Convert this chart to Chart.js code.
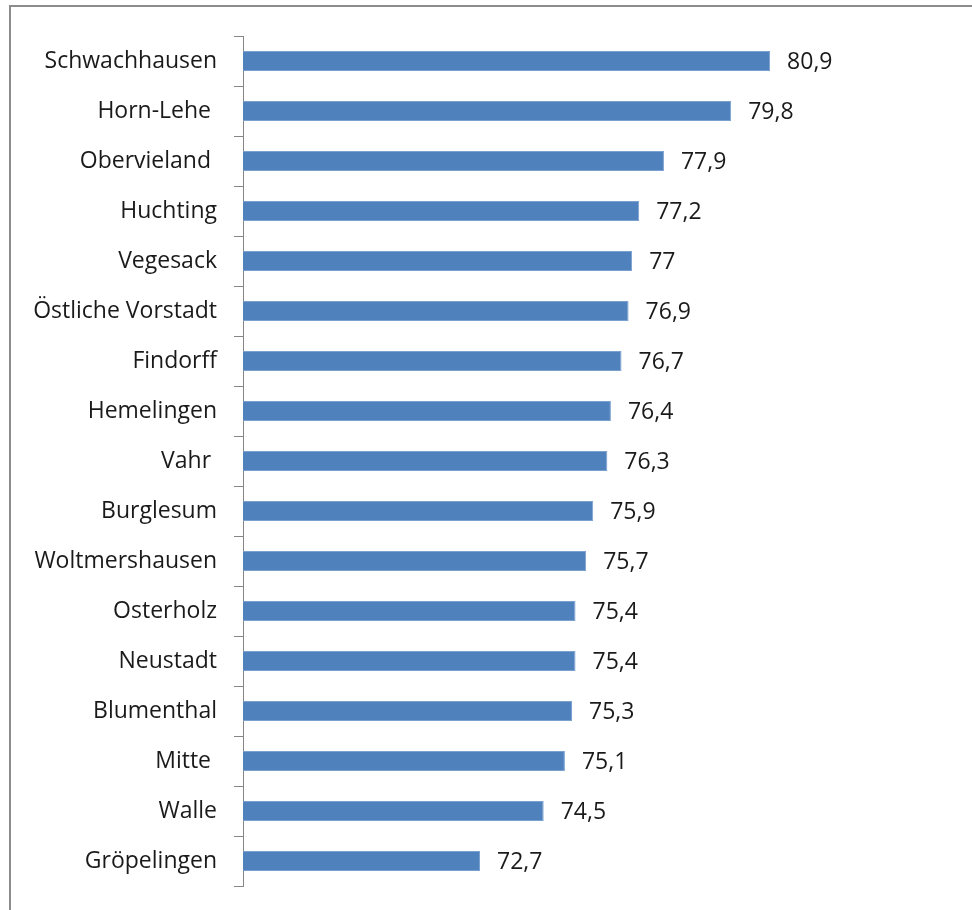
<!DOCTYPE html>
<html>
<head>
<meta charset="utf-8">
<script src="https://cdn.jsdelivr.net/npm/chart.js@4/dist/chart.umd.min.js"></script>
<style>
  html, body { margin: 0; padding: 0; background: #ffffff; overflow: hidden; }
  #wrap { position: relative; width: 972px; height: 910px; }
</style>
</head>
<body>
<div id="wrap"><canvas id="chart" width="972" height="910"></canvas></div>
<script>
// Lebenserwartung nach Stadtteil (Jahre)
const districts = [
  'Schwachhausen', 'Horn-Lehe ', 'Obervieland ', 'Huchting', 'Vegesack',
  'Östliche Vorstadt', 'Findorff', 'Hemelingen', 'Vahr ', 'Burglesum',
  'Woltmershausen', 'Osterholz', 'Neustadt', 'Blumenthal', 'Mitte ',
  'Walle', 'Gröpelingen'
];
const lifeExpectancy = [
  80.9, 79.8, 77.9, 77.2, 77.0,
  76.9, 76.7, 76.4, 76.3, 75.9,
  75.7, 75.4, 75.4, 75.3, 75.1,
  74.5, 72.7
];
const valueAxisMin = 66;
const valueAxisMax = 82;

const FONT = '"Open Sans", sans-serif';
const FONT_SIZE = 23;
const TEXT_COLOR = '#1a1a1a';
const LINE_COLOR = '#868686';

// Outer chart frame
const framePlugin = {
  id: 'frame',
  beforeDraw(chart) {
    const ctx = chart.ctx;
    ctx.save();
    ctx.fillStyle = '#ffffff';
    ctx.fillRect(0, 0, chart.width, chart.height);
    ctx.strokeStyle = '#8c8c8c';
    ctx.lineWidth = 2;
    ctx.strokeRect(10, 6, chart.width + 20, chart.height + 20);
    ctx.restore();
  }
};

// Value labels to the right of each bar
const valueLabels = {
  id: 'valueLabels',
  afterDatasetsDraw(chart) {
    const ctx = chart.ctx;
    const meta = chart.getDatasetMeta(0);
    ctx.save();
    ctx.font = FONT_SIZE + 'px ' + FONT;
    ctx.fillStyle = TEXT_COLOR;
    ctx.textAlign = 'left';
    ctx.textBaseline = 'middle';
    meta.data.forEach((bar, i) => {
      const txt = lifeExpectancy[i].toLocaleString('de-DE');
      ctx.fillText(txt, bar.x + 17, bar.y + 1);
    });
    ctx.restore();
  }
};

new Chart(document.getElementById('chart'), {
  type: 'bar',
  data: {
    labels: districts,
    datasets: [{
      data: lifeExpectancy,
      backgroundColor: '#4f81bd',
      borderColor: '#7ba1d1',
      borderWidth: 1,
      barPercentage: 0.4,
      categoryPercentage: 1.0
    }]
  },
  options: {
    indexAxis: 'y',
    responsive: false,
    animation: false,
    devicePixelRatio: 1,
    layout: { padding: { left: 0, top: 36, right: 163, bottom: 24 } },
    plugins: {
      legend: { display: false },
      tooltip: { enabled: false }
    },
    scales: {
      x: {
        display: false,
        min: valueAxisMin,
        max: valueAxisMax
      },
      y: {
        afterFit(scale) {
          scale.width = 243;
          scale.paddingTop = 0;
          scale.paddingBottom = 0;
        },
        border: { display: true, color: LINE_COLOR, width: 1 },
        grid: {
          offset: true,
          drawOnChartArea: false,
          drawTicks: true,
          tickLength: 9,
          color: LINE_COLOR
        },
        ticks: {
          padding: 17,
          color: TEXT_COLOR,
          font: { family: FONT, size: FONT_SIZE }
        }
      }
    }
  },
  plugins: [framePlugin, valueLabels]
});
</script>
</body>
</html>
